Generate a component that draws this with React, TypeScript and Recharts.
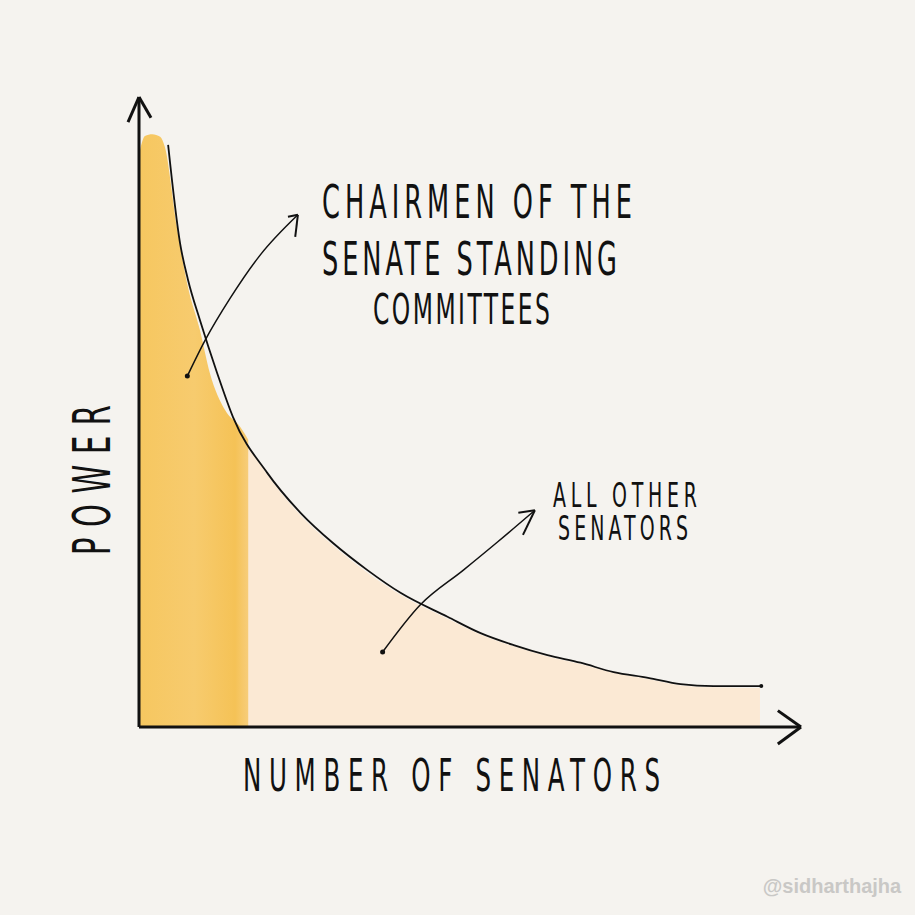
import {
    Area,
    ComposedChart,
    Line,
    ReferenceDot,
    ReferenceLine,
    XAxis,
    YAxis,
} from "recharts";

// power curve (x = share of senators, y = power)
const senators = [4.4, 6.2, 7.4, 9.2, 11.8, 14.2, 19.4, 24.4, 29.3, 34.5, 39.5, 46.6, 51.6, 56.6, 61.7, 66.7, 71.7, 76.9, 81.8, 86.8, 94.0];
const power = [92.4, 76.8, 71.0, 64.6, 56.2, 49.2, 40.3, 34.0, 29.2, 24.9, 21.3, 17.5, 14.9, 13.0, 11.4, 10.2, 8.7, 7.8, 6.8, 6.5, 6.5];

// dark wash: committee chairmen
const chairX = [0.15, 0.9, 2.0, 3.2, 3.9, 5.7, 7.4, 9.2, 10.7, 13.0, 15.3, 16.5];
const chairY = [91.6, 93.8, 94.1, 93.7, 92.1, 79.5, 69.8, 63.0, 56.2, 50.3, 47.6, 45.6];

// light wash: everyone else
const otherX = [15.0, 19.4, 24.4, 29.3, 34.5, 39.5, 46.6, 51.6, 56.6, 61.7, 66.7, 71.7, 76.9, 81.8, 86.8, 93.8];
const otherY = [47.0, 40.0, 33.6, 28.8, 24.5, 21.0, 17.2, 14.7, 12.8, 11.2, 10.0, 8.6, 7.6, 6.6, 6.3, 6.2];

// annotation arrows
const arrow1X = [7.3, 10.0, 13.8, 18.3, 24.0];
const arrow1Y = [55.7, 61.4, 68.1, 74.9, 81.3];
const arrow2X = [36.8, 42.5, 49.0, 54.2, 59.8];
const arrow2Y = [11.9, 19.4, 24.9, 29.4, 34.4];

const zip = (xs: number[], ys: number[]) => xs.map((x, i) => ({ x, y: ys[i] }));

const curve = zip(senators, power);
const chairs = zip(chairX, chairY);
const others = zip(otherX, otherY);
const arrow1 = zip(arrow1X, arrow1Y);
const arrow2 = zip(arrow2X, arrow2Y);

const hand = "'DejaVu Sans Condensed', 'DejaVu Sans', sans-serif";
const squeeze = 0.62;

function HandText({ x, y, size, width, children }: { x: number; y: number; size: number; width: number; children: string }) {
    return (
        <text
            x={0}
            y={0}
            fontSize={size}
            textLength={width / squeeze}
            lengthAdjust="spacing"
            transform={`translate(${x} ${y}) scale(${squeeze} 1)`}
        >
            {children}
        </text>
    );
}

const ink = "#111";

export default function App() {
    return (
        <div
            style={{
                position: "absolute",
                left: 0,
                top: 0,
                width: 915,
                height: 915,
                background: "#f5f3ef",
                overflow: "hidden",
            }}
        >
            <ComposedChart
                width={915}
                height={915}
                margin={{ top: 97, left: 139, right: 114, bottom: 188 }}
            >
                <defs>
                    <linearGradient id="chairWash" x1="0" y1="0" x2="1" y2="0">
                        <stop offset="0%" stopColor="#f6c760" />
                        <stop offset="50%" stopColor="#f7cb6e" />
                        <stop offset="88%" stopColor="#f5c256" />
                        <stop offset="100%" stopColor="#f7cd7a" />
                    </linearGradient>
                </defs>
                <XAxis type="number" dataKey="x" domain={[0, 100]} hide />
                <YAxis type="number" dataKey="y" domain={[0, 100]} hide />
                <Area
                    data={others}
                    dataKey="y"
                    type="monotone"
                    stroke="none"
                    fill="#fbe9d4"
                    fillOpacity={1}
                    isAnimationActive={false}
                />
                <Area
                    data={chairs}
                    dataKey="y"
                    type="monotone"
                    stroke="none"
                    fill="url(#chairWash)"
                    fillOpacity={1}
                    isAnimationActive={false}
                />
                <Line
                    data={curve}
                    dataKey="y"
                    type="monotone"
                    stroke={ink}
                    strokeWidth={1.8}
                    dot={false}
                    isAnimationActive={false}
                />
                <Line
                    data={arrow1}
                    dataKey="y"
                    type="monotone"
                    stroke={ink}
                    strokeWidth={1.5}
                    dot={false}
                    isAnimationActive={false}
                />
                <Line
                    data={arrow2}
                    dataKey="y"
                    type="monotone"
                    stroke={ink}
                    strokeWidth={1.5}
                    dot={false}
                    isAnimationActive={false}
                />
                {/* axes */}
                <ReferenceLine segment={[{ x: 0, y: 0 }, { x: 100, y: 0 }]} stroke={ink} strokeWidth={3} ifOverflow="visible" />
                <ReferenceLine segment={[{ x: 0, y: 0 }, { x: 0, y: 100 }]} stroke={ink} strokeWidth={3} ifOverflow="visible" />
                <ReferenceDot x={7.3} y={55.7} r={2.5} fill={ink} stroke="none" ifOverflow="visible" />
                <ReferenceDot x={36.8} y={11.9} r={2.5} fill={ink} stroke="none" ifOverflow="visible" />
                <ReferenceDot x={94.0} y={6.5} r={2} fill={ink} stroke="none" ifOverflow="visible" />
                {/* arrow heads */}
                <ReferenceLine segment={[{ x: -1.66, y: 96.0 }, { x: 0, y: 100 }]} stroke={ink} strokeWidth={3} ifOverflow="visible" />
                <ReferenceLine segment={[{ x: 1.81, y: 96.7 }, { x: 0, y: 100 }]} stroke={ink} strokeWidth={3} ifOverflow="visible" />
                <ReferenceLine segment={[{ x: 96.5, y: 2.6 }, { x: 100, y: 0 }]} stroke={ink} strokeWidth={3} ifOverflow="visible" />
                <ReferenceLine segment={[{ x: 96.5, y: -2.7 }, { x: 100, y: 0 }]} stroke={ink} strokeWidth={3} ifOverflow="visible" />
                <ReferenceLine segment={[{ x: 22.5, y: 81.0 }, { x: 24.0, y: 81.3 }]} stroke={ink} strokeWidth={2} ifOverflow="visible" />
                <ReferenceLine segment={[{ x: 23.6, y: 77.8 }, { x: 24.0, y: 81.3 }]} stroke={ink} strokeWidth={2} ifOverflow="visible" />
                <ReferenceLine segment={[{ x: 57.3, y: 34.0 }, { x: 59.8, y: 34.4 }]} stroke={ink} strokeWidth={2} ifOverflow="visible" />
                <ReferenceLine segment={[{ x: 58.0, y: 30.5 }, { x: 59.8, y: 34.4 }]} stroke={ink} strokeWidth={2} ifOverflow="visible" />
            </ComposedChart>
            <svg
                width={915}
                height={915}
                style={{ position: "absolute", left: 0, top: 0, pointerEvents: "none" }}
            >
                <g fontFamily={hand} fill={ink}>
                    <HandText x={322} y={218} size={46} width={310}>CHAIRMEN OF THE</HandText>
                    <HandText x={322} y={275} size={46} width={295}>SENATE STANDING</HandText>
                    <HandText x={373} y={324} size={42} width={177}>COMMITTEES</HandText>
                    <HandText x={553} y={507} size={34} width={144}>ALL OTHER</HandText>
                    <HandText x={558} y={540} size={34} width={130}>SENATORS</HandText>
                    <HandText x={243} y={791} size={44} width={417}>NUMBER OF SENATORS</HandText>
                    <g transform="translate(110 555) rotate(-90)">
                        <HandText x={0} y={0} size={52} width={150}>POWER</HandText>
                    </g>
                </g>
                <text
                    x={832}
                    y={893}
                    textAnchor="middle"
                    fontFamily="'Liberation Sans', Arial, sans-serif"
                    fontWeight="bold"
                    fontSize={20}
                    fill="#c9c8c6"
                >
                    @sidharthajha
                </text>
            </svg>
        </div>
    );
}
